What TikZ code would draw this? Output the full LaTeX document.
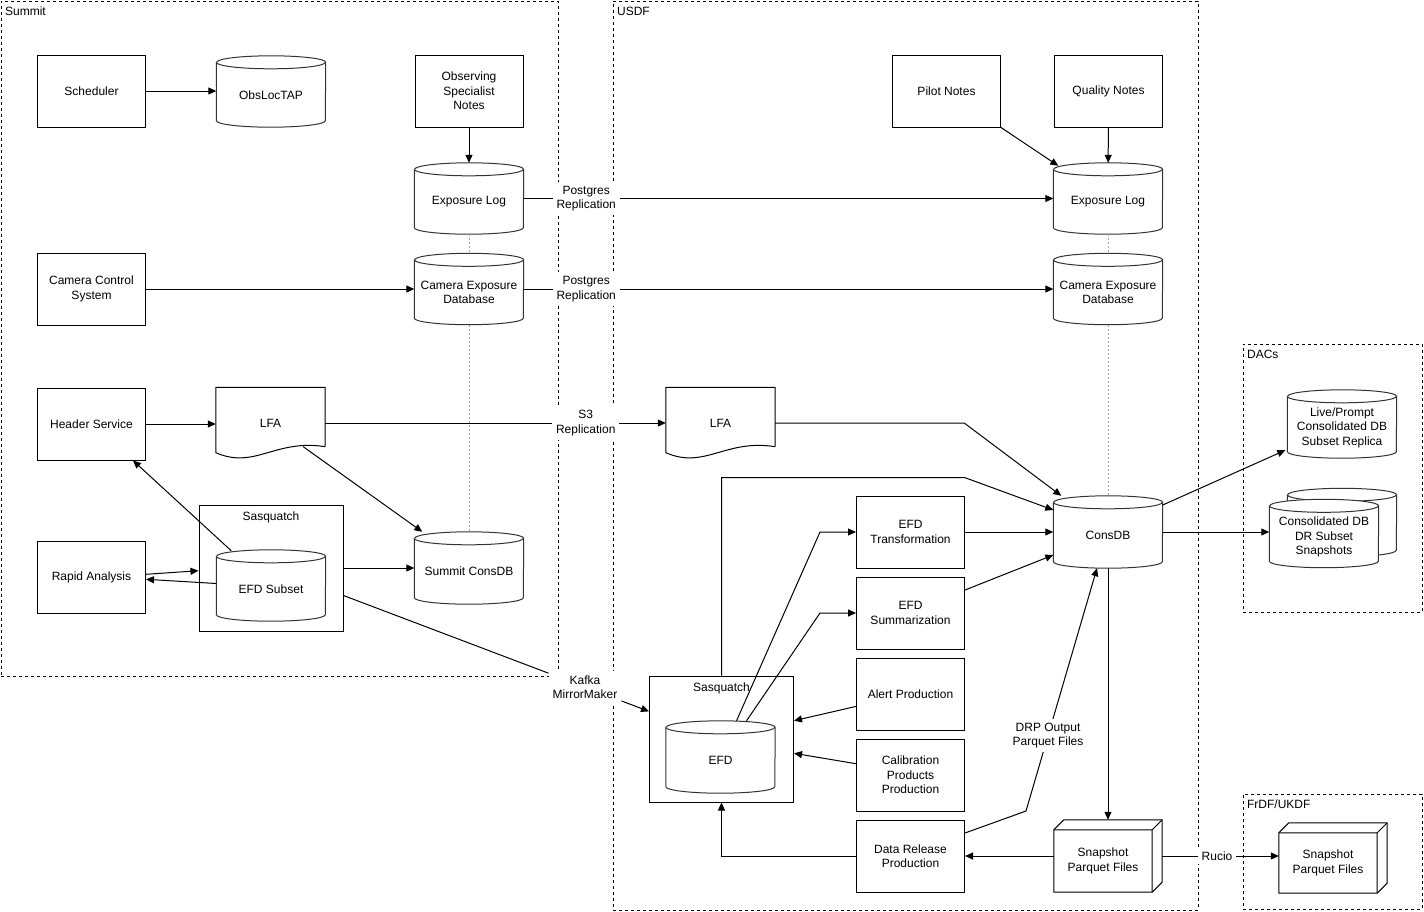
\documentclass[tikz,border=0pt]{standalone}
\usepackage{fontspec}
\setmainfont{Liberation Sans}
\usepackage{tikz}
\usetikzlibrary{calc,arrows.meta,positioning,backgrounds}
\tikzstyle{box}=[rectangle, draw=black, line width=1, minimum width=108, minimum height=72, align=center, inner sep=2pt]
\tikzset{db/.style={rectangle, minimum width=109, minimum height=71, label={[align=center, yshift=-3.5pt]center:#1}}}
\tikzset{cube/.style={rectangle, minimum width=108, minimum height=72, label={[align=center, xshift=-5pt, yshift=-5pt]center:#1}}}
\tikzstyle{dbline}=[line width=1, draw=black!80, fill=white]
\tikzstyle{doc}=[rectangle, minimum width=109, minimum height=71, align=center]
\tikzstyle{grp}=[rectangle, draw=black, line width=1, minimum width=144, minimum height=126]
\tikzstyle{grplbl}=[anchor=north, yshift=-4pt]
\tikzstyle{zone}=[rectangle, draw=black, dashed, line width=0.8]
\tikzstyle{zonelbl}=[anchor=north west, xshift=1pt, yshift=-3pt]
\tikzstyle{l1}=[line width=1]
\tikzstyle{lbl}=[fill=white, align=center, inner sep=4pt]
\tikzstyle{link}=[draw=gray!70, dash pattern=on 2pt off 2pt, line width=0.8]

\begin{document}
\begin{tikzpicture}[x=1pt, y=-1pt, >={Triangle[length=8pt,width=7pt]}, font=\fontsize{12}{14.5}\selectfont]
    \useasboundingbox (0,0) rectangle (1424,911);

    % sites
    \node[zone, minimum width=557, minimum height=675, label={[zonelbl]north west:Summit}] (summit) at (279.5,338.5) {};
    \node[zone, minimum width=585, minimum height=909, label={[zonelbl]north west:USDF}] (usdf) at (905.5,455.5) {};
    \node[zone, minimum width=179, minimum height=268, label={[zonelbl]north west:DACs}] (dacs) at (1332.5,478) {};
    \node[zone, minimum width=179, minimum height=115, label={[zonelbl]north west:FrDF/UKDF}] (frdf) at (1332.5,851.5) {};

    % summit
    \node[box] (sched) at (91.5,91) {Scheduler};
    \node[db=ObsLocTAP] (obsloc) at (271,91.5) {};
    \node[box] (osnotes) at (469,91) {Observing\\Specialist\\Notes};
    \node[db=Exposure Log] (sexplog) at (469,198.5) {};
    \node[box] (ccs) at (91.5,289) {Camera Control\\System};
    \node[db={Camera Exposure\\Database}] (scamdb) at (469,289) {};
    \node[box] (hdr) at (91.5,424) {Header Service};
    \node[doc] (slfa) at (270.5,423) {LFA};
    \node[grp, label={[grplbl]north:Sasquatch}] (ssasq) at (271,568) {};
    \node[db=EFD Subset] (efdsub) at (271,585.5) {};
    \node[box] (rapid) at (91.5,577) {Rapid Analysis};
    \node[db=Summit ConsDB, minimum height=72] (sconsdb) at (469,568) {};
    \node[lbl] (kafka) at (585,687) {Kafka\\MirrorMaker};

    % usdf
    \node[box] (pilot) at (946.5,91) {Pilot Notes};
    \node[box] (quality) at (1108.5,91) {Quality Notes};
    \node[db=Exposure Log] (uexplog) at (1108,198.5) {};
    \node[db={Camera Exposure\\Database}] (ucamdb) at (1108,289) {};
    \node[doc] (ulfa) at (720.5,423) {LFA};
    \node[db=ConsDB, minimum height=72] (consdb) at (1108,532) {};
    \node[box] (efdtr) at (910.5,532) {EFD\\Transformation};
    \node[box] (efdsum) at (910.5,613) {EFD\\Summarization};
    \node[box] (alert) at (910.5,694) {Alert Production};
    \node[box] (calib) at (910.5,775) {Calibration\\Products\\Production};
    \node[box] (drp) at (910.5,856) {Data Release\\Production};
    \node[grp, label={[grplbl]north:Sasquatch}] (usasq) at (721.5,739) {};
    \node[db=EFD, minimum height=72] (efd) at (720.5,757) {};
    \node[cube={Snapshot\\Parquet Files}] (usnap) at (1108,856) {};

    % dacs, frdf
    \node[db={Live/Prompt\\Consolidated DB\\Subset Replica}, minimum height=68] (live) at (1342,424) {};
    \node[db={}, minimum height=68] (drsnapb) at (1342,522.5) {};
    \node[db={Consolidated DB\\DR Subset\\Snapshots}, minimum height=68] (drsnap) at (1324,533.5) {};
    \node[cube={Snapshot\\Parquet Files}, minimum height=70] (fsnap) at (1333,858) {};

    \begin{scope}[on background layer]
        \fill[white] (0,0) rectangle (1424,911);
        \foreach \n in {obsloc,sexplog,scamdb,efdsub,sconsdb,uexplog,ucamdb,consdb,efd,live,drsnapb,drsnap}{
            \draw[dbline] ($(\n.north west)+(0,-6.5pt)$) -- ($(\n.south west)+(0,6.5pt)$)
                arc[start angle=180, end angle=360, x radius=54.5pt, y radius=6.5pt]
                -- ($(\n.north east)+(0,-6.5pt)$)
                arc[start angle=0, end angle=180, x radius=54.5pt, y radius=6.5pt] -- cycle;
            \draw[dbline] ($(\n.north west)+(0,-6.5pt)$) arc[start angle=180, end angle=360, x radius=54.5pt, y radius=6.5pt];
        }
    \end{scope}

    \foreach \n in {slfa,ulfa}{
        \draw[l1] ($(\n.south east)+(0,12pt)$) -- (\n.north east) -- (\n.north west) -- ($(\n.south west)+(0,6pt)$)
            .. controls ($(\n.south west)+(39pt,-11pt)$) and ($(\n.south east)+(-50pt,20pt)$) .. ($(\n.south east)+(0,12pt)$);
    }
    \foreach \n in {usnap,fsnap}{
        \draw[l1] (\n.south west) -- ($(\n.north west)+(0,-10pt)$) -- ($(\n.north west)+(10pt,0)$) -- (\n.north east)
            -- ($(\n.south east)+(0,10pt)$) -- ($(\n.south east)+(-10pt,0)$) -- cycle;
        \draw[l1] ($(\n.north west)+(0,-10pt)$) -- ($(\n.north east)+(-10pt,-10pt)$) -- ($(\n.south east)+(-10pt,0)$)
            ($(\n.north east)+(-10pt,-10pt)$) -- (\n.north east);
    }

    \draw[link] (sexplog) -- (scamdb);
    \draw[link] (scamdb) -- (sconsdb);
    \draw[link] (uexplog) -- (ucamdb);
    \draw[link] (ucamdb) -- (consdb);

    \draw[l1, ->] (sched.east) -- (sched.east -| obsloc.west);
    \draw[l1, ->] (osnotes) -- (sexplog);
    \draw[l1, ->] (ccs) -- (scamdb);
    \draw[l1, ->] (hdr.east) -- (hdr.east -| slfa.west);
    \draw[l1, ->] ($(slfa.south east)+(-22pt,12pt)$) -- ($(sconsdb.north west)+(8pt,0)$);
    \draw[l1, ->] ($(efdsub.north west)+(15pt,-1pt)$) -- ($(hdr.south east)+(-13pt,0)$);
    \draw[l1, ->] ($(rapid.east)+(0,2.7pt)$) -- ($(ssasq.west)+(0,-2.7pt)$);
    \draw[l1, ->] ($(efdsub.west)+(0,2pt)$) -- ($(rapid.east)+(0,-2.3pt)$);
    \draw[l1, ->] (ssasq) -- (sconsdb);
    \draw[l1] ($(ssasq.east)+(0,-27.5pt)$) -- (kafka);
    \draw[l1, ->] (kafka) -- (usasq);

    \draw[l1, ->] (sexplog) -- node[lbl, pos=0.118] (pg1) {Postgres\\Replication} (uexplog);
    \draw[l1, ->] (scamdb) -- node[lbl, pos=0.118] (pg2) {Postgres\\Replication} (ucamdb);
    \draw[l1, ->] (slfa) -- node[lbl, pos=0.765] (s3) {S3\\Replication} (ulfa);

    \draw[l1, ->] (pilot.south east) -- ($(uexplog.north west)+(5pt,-3pt)$);
    \draw[l1, ->] (quality) -- (uexplog);
    \draw[l1, ->] (ulfa.east) -- ++(189pt,0) -- ($(consdb.north west)+(8pt,0)$);
    \draw[l1, ->] (usasq.north) -- ++(0,198pt) -- ++(243pt,0) -- ($(consdb.west)+(0,22pt)$);
    \draw[l1, ->] ($(efd.north)+(16pt,0)$) -- ($(efdtr.west)+(-36pt,0)$) -- (efdtr.west);
    \draw[l1, ->] ($(efd.north)+(26pt,0)$) -- ($(efdsum.west)+(-36pt,0)$) -- (efdsum.west);
    \draw[l1, ->] (efdtr) -- (consdb);
    \draw[l1, ->] ($(efdsum.east)+(0,23pt)$) -- ($(consdb.west)+(0,-23pt)$);
    \draw[l1, ->] ($(alert.west)+(0,-12.4pt)$) -- ($(usasq.east)+(0,18.3pt)$);
    \draw[l1, ->] ($(calib.west)+(0,11.3pt)$) -- ($(usasq.east)+(0,-14.3pt)$);
    \draw[l1, ->] (drp.west) -| (usasq.south);
    \draw[l1, ->] (usnap) -- (drp);
    \draw[l1, ->] ($(drp.east)+(0,23pt)$) -- ++(61pt,22pt) -- node[lbl, pos=0.31] (drpout) {DRP Output\\Parquet Files} ($(consdb.south)+(-11pt,0)$);
    \draw[l1, ->] (consdb) -- (usnap);
    \draw[l1, ->] (usnap.east) -- node[lbl, pos=0.47] (rucio) {Rucio} (usnap.east -| fsnap.west);
    \draw[l1, ->] ($(consdb.east)+(0,27pt)$) -- ($(live.south west)+(-2pt,8pt)$);
    \draw[l1, ->] (consdb.east) -- (consdb.east -| drsnap.west);
\end{tikzpicture}
\end{document}
